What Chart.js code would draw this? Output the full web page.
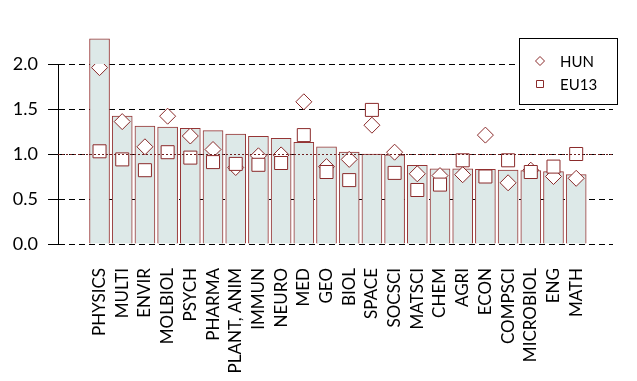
<!DOCTYPE html>
<html>
<head>
<meta charset="utf-8">
<script src="https://cdn.jsdelivr.net/npm/chart.js@4"></script>
<style>
  html, body { margin: 0; padding: 0; background: #fff; }
  #wrap { width: 637px; height: 381px; }
</style>
</head>
<body>
<div id="wrap"><canvas id="fieldChart" width="637" height="381"></canvas></div>
<script>
// 分野ごとの値
const categories = ['PHYSICS', 'MULTI', 'ENVIR', 'MOLBIOL', 'PSYCH', 'PHARMA', 'PLANT, ANIM', 'IMMUN', 'NEURO', 'MED', 'GEO',
                    'BIOL', 'SPACE', 'SOCSCI', 'MATSCI', 'CHEM', 'AGRI', 'ECON', 'COMPSCI', 'MICROBIOL', 'ENG', 'MATH'];
const barValues = [2.28, 1.42, 1.31, 1.30, 1.285, 1.26, 1.22, 1.195, 1.175, 1.13, 1.08,
                   1.02, 1.0, 0.99, 0.875, 0.835, 0.835, 0.83, 0.82, 0.815, 0.805, 0.77];
const hunValues = [1.96, 1.36, 1.08, 1.42, 1.20, 1.05, 0.85, 0.98, 0.99, 1.58, 0.86,
                   0.94, 1.32, 1.02, 0.78, 0.76, 0.77, 1.21, 0.68, 0.82, 0.75, 0.73];
const eu13Values = [1.03, 0.94, 0.82, 1.02, 0.96, 0.91, 0.89, 0.88, 0.90, 1.21, 0.80,
                    0.71, 1.49, 0.79, 0.60, 0.66, 0.93, 0.75, 0.93, 0.80, 0.86, 1.00];
const yTicks = [0, 0.5, 1.0, 1.5, 2.0];
const refValue = 1.0;

const darkRed = '#8a2a2a';

// {x, y} 形式に変換 (x はカテゴリ番号)
const toPoints = arr => arr.map((v, i) => ({ x: i, y: v }));

// 1.0 の基準線 (点線, 系列の上に描く)
const refLinePlugin = {
    id: 'refLine',
    afterDatasetsDraw(chart) {
        const { ctx, chartArea, scales } = chart;
        const y = Math.round(scales.y.getPixelForValue(refValue)) + 0.5;
        ctx.save();
        ctx.strokeStyle = '#6e1f1f';
        ctx.lineWidth = 1;
        ctx.setLineDash([2, 2]);
        ctx.beginPath();
        ctx.moveTo(chartArea.left, y);
        ctx.lineTo(chartArea.right, y);
        ctx.stroke();
        ctx.restore();
    }
};

// 枠付きの凡例 (白で塗りつぶし)
const boxLegendPlugin = {
    id: 'boxLegend',
    afterDraw(chart) {
        const { ctx, chartArea } = chart;
        const left = Math.round(chartArea.right - 94), top = Math.round(chartArea.top - 26);
        ctx.save();
        ctx.fillStyle = '#fff';
        ctx.fillRect(left, top, 99, 67);
        ctx.strokeStyle = '#000';
        ctx.lineWidth = 1;
        ctx.strokeRect(left + 0.5, top + 0.5, 98, 66);
        const items = chart.data.datasets.filter(d => d.type === 'line');
        items.forEach((d, i) => {
            const cx = left + 21, cy = top + 23 + i * 23;
            ctx.beginPath();
            if (d.pointStyle === 'rectRot') {
                const r = 4.5;
                ctx.moveTo(cx - r, cy); ctx.lineTo(cx, cy - r); ctx.lineTo(cx + r, cy); ctx.lineTo(cx, cy + r);
                ctx.closePath();
            } else {
                ctx.rect(cx - 3.5, cy - 3.5, 7, 7);
            }
            ctx.fillStyle = '#fff';
            ctx.fill();
            ctx.strokeStyle = darkRed;
            ctx.stroke();
            ctx.fillStyle = '#000';
            ctx.font = '15px Lato';
            ctx.textBaseline = 'middle';
            ctx.fillText(d.label, left + 41, cy + 1);
        });
        ctx.restore();
    }
};

const ctx = document.getElementById('fieldChart').getContext('2d');
new Chart(ctx, {
    type: 'bar',
    data: {
        datasets: [
            {
                type: 'line',
                label: 'HUN',
                data: toPoints(hunValues),
                showLine: false,
                pointStyle: 'rectRot',
                pointRadius: 8,
                pointBackgroundColor: '#fff',
                pointBorderColor: darkRed,
                pointBorderWidth: 1,
                order: 2
            },
            {
                type: 'line',
                label: 'EU13',
                data: toPoints(eu13Values),
                showLine: false,
                pointStyle: 'rect',
                pointRadius: 9.2,
                pointBackgroundColor: '#fff',
                pointBorderColor: darkRed,
                pointBorderWidth: 1,
                order: 1
            },
            {
                label: 'value',
                data: toPoints(barValues),
                barThickness: 20,
                backgroundColor: '#dde9e8',
                borderColor: '#963535',
                borderWidth: 1,
                clip: false,
                order: 3
            }
        ]
    },
    options: {
        responsive: false,
        animation: false,
        layout: { padding: { top: 64, right: 24, left: 0, bottom: 0 } },
        plugins: { legend: { display: false }, tooltip: { enabled: false } },
        scales: {
            x: {
                type: 'linear',
                min: -1.274,
                max: 22.066,
                grid: { display: false, drawTicks: false },
                border: { display: false },
                afterFit: scale => { scale.height = 137; },
                afterBuildTicks: scale => {
                    scale.ticks = categories.map((c, i) => ({ value: i }));
                },
                ticks: {
                    autoSkip: false,
                    maxRotation: 90,
                    minRotation: 90,
                    padding: 24,
                    color: '#000',
                    font: { family: 'Lato', size: 17 },
                    callback: v => categories[v] ?? ''
                }
            },
            y: {
                min: 0,
                max: 2,
                afterFit: scale => { scale.width = 58; },
                afterBuildTicks: scale => {
                    scale.ticks = yTicks.map(v => ({ value: v }));
                },
                border: { display: true, color: '#000', width: 1, dash: [6, 4] },
                grid: {
                    color: '#000',
                    tickColor: '#000',
                    tickLength: 10,
                    tickBorderDash: []
                },
                ticks: {
                    padding: 10,
                    color: '#000',
                    font: { family: 'Lato', size: 18 },
                    callback: v => v.toFixed(1)
                }
            }
        }
    },
    plugins: [refLinePlugin, boxLegendPlugin]
});
</script>
</body>
</html>
